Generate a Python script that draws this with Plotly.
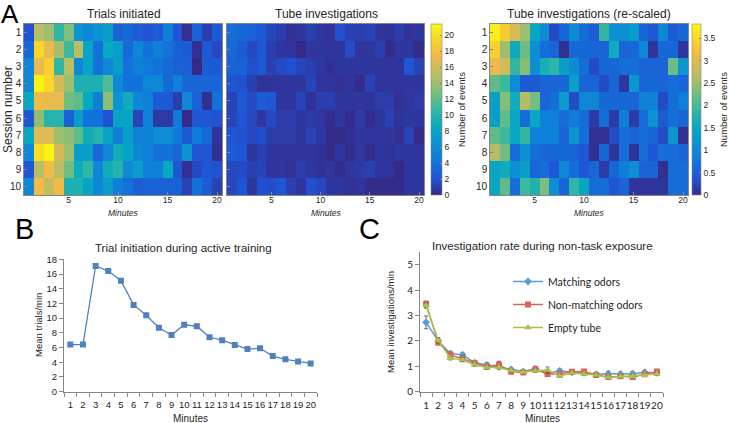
import plotly.graph_objects as go

# ---- data -------------------------------------------------------------
minutes = list(range(1, 21))
sessions = list(range(1, 11))

# trials initiated per minute (rows = session 1..10, cols = minute 1..20)
trials_initiated = [
    [2.0, 15.0, 14.0, 10.5, 13.0, 6.5, 5.5, 6.5, 7.5, 3.0, 3.5, 2.5, 2.0, 2.5, 5.0, 2.0, 0.3, 3.0, 1.0, 2.5],
    [3.5, 19.5, 17.0, 14.5, 11.0, 15.0, 8.0, 4.0, 8.5, 7.5, 3.5, 5.5, 4.0, 5.0, 4.0, 3.0, 2.5, 0.3, 2.5, 1.5],
    [5.5, 17.0, 19.0, 10.5, 15.0, 5.5, 8.0, 4.0, 5.5, 7.5, 4.0, 5.0, 4.5, 4.0, 3.5, 3.0, 2.7, 0.0, 2.5, 2.5],
    [5.5, 21.0, 19.5, 16.0, 14.0, 9.5, 9.5, 9.5, 11.5, 5.5, 4.0, 4.0, 5.5, 5.5, 3.5, 5.0, 3.2, 3.2, 3.2, 3.2],
    [8.5, 17.5, 17.0, 17.0, 12.5, 12.0, 8.5, 5.0, 13.5, 6.5, 9.0, 5.5, 5.0, 2.5, 2.5, 1.0, 5.5, 3.0, 0.3, 4.0],
    [2.2, 13.5, 10.0, 10.0, 3.0, 7.5, 4.0, 4.0, 2.0, 8.0, 8.0, 1.3, 5.0, 0.8, 0.8, 4.5, 0.0, 2.2, 2.2, 2.0],
    [8.5, 16.5, 16.5, 14.0, 13.5, 12.0, 9.0, 10.0, 8.0, 5.0, 7.5, 5.0, 5.0, 6.0, 6.0, 4.5, 2.5, 4.5, 3.5, 0.5],
    [5.5, 20.0, 21.0, 16.0, 14.0, 7.5, 7.5, 3.2, 5.5, 9.0, 8.0, 5.5, 5.0, 4.0, 4.0, 3.2, 6.5, 2.2, 2.2, 0.3],
    [2.2, 15.0, 17.5, 15.0, 12.5, 9.0, 10.5, 5.5, 9.0, 10.0, 5.5, 7.5, 5.0, 5.0, 8.5, 2.2, 0.3, 1.5, 2.2, 2.0],
    [5.5, 17.5, 15.5, 17.5, 9.5, 9.5, 8.0, 5.5, 7.5, 5.0, 4.0, 2.7, 3.0, 3.0, 3.0, 3.0, 1.2, 4.0, 2.5, 1.2],
]

# tube investigations per minute (shown on the shared scale and re-scaled)
tube_investigations = [
    [3.7, 3.35, 2.9, 2.5, 1.45, 1.05, 0.3, 0.6, 1.05, 0.65, 0.45, 1.9, 1.1, 1.1, 1.3, 0.6, 0.45, 1.0, 0.45, 0.6],
    [3.4, 2.5, 1.55, 2.2, 1.1, 0.65, 0.55, 0.05, 0.6, 0.6, 0.55, 0.55, 1.6, 0.55, 0.6, 1.0, 0.1, 0.6, 0.6, 0.1],
    [3.05, 2.85, 1.9, 2.35, 1.1, 1.65, 1.85, 1.35, 1.05, 0.65, 0.3, 0.6, 0.6, 0.65, 0.65, 0.55, 0.55, 0.55, 2.2, 1.2],
    [2.15, 1.95, 1.05, 0.45, 0.45, 0.55, 0.55, 0.6, 1.35, 0.55, 0.55, 0.3, 0.55, 0.1, 1.2, 0.55, 0.6, 0.55, 0.65, 0.55],
    [1.35, 2.35, 1.6, 2.65, 2.25, 0.55, 0.65, 1.25, 0.3, 1.0, 1.0, 0.6, 0.6, 0.6, 0.55, 0.9, 0.9, 0.3, 0.65, 0.85],
    [1.35, 2.15, 1.45, 0.65, 1.5, 0.9, 0.9, 0.65, 0.85, 0.65, 0.15, 0.65, 0.15, 0.85, 0.15, 0.65, 1.15, 0.45, 0.65, 0.55],
    [2.15, 1.95, 1.5, 1.9, 0.9, 0.9, 0.9, 0.55, 1.2, 0.65, 0.05, 0.05, 0.3, 0.65, 0.55, 0.65, 0.55, 0.3, 1.2, 0.05],
    [2.65, 2.25, 0.65, 1.1, 0.65, 0.55, 0.6, 0.6, 0.55, 0.4, 0.05, 0.6, 0.1, 0.65, 0.1, 0.65, 0.4, 0.65, 0.65, 0.55],
    [1.45, 1.6, 1.1, 1.35, 0.55, 0.65, 0.4, 1.0, 0.65, 0.4, 0.6, 0.15, 0.6, 0.85, 1.1, 0.55, 0.55, 0.05, 0.65, 0.65],
    [1.45, 2.15, 0.65, 1.95, 1.75, 2.3, 1.1, 0.55, 1.85, 1.45, 0.65, 0.65, 0.4, 0.55, 0.1, 0.1, 0.1, 0.1, 0.65, 0.65],
]

# panel B: mean trials/min
mean_trials = [6.4, 6.4, 17.1, 16.4, 15.1, 11.8, 10.4, 8.7, 7.7, 9.1,
               8.9, 7.4, 7.0, 6.35, 5.8, 5.9, 4.85, 4.4, 4.1, 3.85]

# panel C: mean investigations/min with error bars
matching = [2.73, 2.0, 1.5, 1.45, 1.14, 1.06, 0.99, 0.88, 0.8, 0.9,
            0.72, 0.82, 0.76, 0.74, 0.69, 0.71, 0.7, 0.71, 0.77, 0.74]
matching_err = [0.25, 0.12, 0.09, 0.1, 0.08, 0.09, 0.07, 0.07, 0.06, 0.1,
                0.07, 0.08, 0.06, 0.06, 0.06, 0.1, 0.07, 0.09, 0.07, 0.07]
non_matching = [3.45, 1.94, 1.45, 1.3, 1.12, 0.98, 1.06, 0.79, 0.76, 0.88,
                0.7, 0.7, 0.79, 0.8, 0.66, 0.58, 0.61, 0.58, 0.69, 0.8]
non_matching_err = [0.12, 0.1, 0.08, 0.1, 0.06, 0.07, 0.14, 0.07, 0.06, 0.08,
                    0.06, 0.06, 0.06, 0.06, 0.05, 0.06, 0.05, 0.05, 0.06, 0.07]
empty_tube = [3.39, 2.02, 1.32, 1.26, 1.06, 0.95, 0.95, 0.82, 0.78, 0.82,
              0.85, 0.62, 0.74, 0.7, 0.66, 0.56, 0.59, 0.61, 0.65, 0.7]
empty_tube_err = [0.1, 0.1, 0.07, 0.08, 0.06, 0.06, 0.06, 0.05, 0.05, 0.06,
                  0.12, 0.06, 0.05, 0.05, 0.05, 0.05, 0.05, 0.05, 0.05, 0.05]

# ---- style ------------------------------------------------------------
W, H = 729, 423
parula = [
    [0.0, "rgb(53,42,135)"], [0.095, "rgb(32,83,212)"], [0.206, "rgb(16,121,218)"],
    [0.302, "rgb(12,147,210)"], [0.397, "rgb(7,169,194)"], [0.508, "rgb(56,185,158)"],
    [0.603, "rgb(124,191,123)"], [0.698, "rgb(183,189,100)"], [0.81, "rgb(241,185,74)"],
    [0.905, "rgb(250,211,42)"], [1.0, "rgb(249,251,14)"],
]
ARIAL = "Liberation Sans, Arial, sans-serif"
CAL = "Lato, Liberation Sans, sans-serif"
TXT = "#262626"
AX = "#868686"


def px_x(x):
    return x / W


def px_y(y):
    return 1 - y / H


fig = go.Figure()

fig.add_trace(go.Heatmap(z=trials_initiated, x=minutes, y=sessions, coloraxis="coloraxis",
                         xaxis="x", yaxis="y", hoverinfo="skip"))
fig.add_trace(go.Heatmap(z=tube_investigations, x=minutes, y=sessions, coloraxis="coloraxis",
                         xaxis="x2", yaxis="y2", hoverinfo="skip"))
fig.add_trace(go.Heatmap(z=tube_investigations, x=minutes, y=sessions, coloraxis="coloraxis2",
                         xaxis="x3", yaxis="y3", hoverinfo="skip"))

fig.add_trace(go.Scatter(x=minutes, y=mean_trials, mode="lines+markers", xaxis="x4", yaxis="y4",
                         line=dict(color="#4f81bd", width=1.3),
                         marker=dict(symbol="square", size=6, color="#4f81bd"),
                         showlegend=False))

series_c = [
    ("Matching odors", matching, matching_err, "#5b9bd5", "diamond", 6),
    ("Non-matching odors", non_matching, non_matching_err, "#e0605a", "square", 6),
    ("Empty tube", empty_tube, empty_tube_err, "#a5c449", "triangle-up", 7),
]
for name, vals, errs, col, sym, sz in series_c:
    fig.add_trace(go.Scatter(
        x=minutes, y=vals, name=name, mode="lines+markers", xaxis="x5", yaxis="y5",
        legendgroup=name,
        line=dict(color=col, width=1.5),
        marker=dict(symbol=sym, size=sz, color=col),
        error_y=dict(type="data", array=errs, color="#404040", thickness=0.8, width=2),
    ))

heat_y = [px_y(195), px_y(24)]
heat_x = {"": [24, 222], "2": [227, 424], "3": [490, 688]}


def colorbar(x, thick, ticks):
    return dict(x=px_x(x), xanchor="left", xpad=0, y=heat_y[0], yanchor="bottom", ypad=0,
                len=heat_y[1] - heat_y[0], lenmode="fraction", thickness=thick,
                outlinewidth=0.6, outlinecolor=AX,
                tickvals=ticks, ticks="inside", ticklen=2, tickcolor=AX,
                tickfont=dict(size=8.5, color=TXT),
                title=dict(text="Number of events", side="right",
                           font=dict(size=9.5, color=TXT)))


layout = dict(
    width=W, height=H, margin=dict(l=0, r=0, t=0, b=0),
    paper_bgcolor="white", plot_bgcolor="white",
    font=dict(family=ARIAL, color=TXT, size=9),
    coloraxis=dict(colorscale=parula, cmin=0, cmax=21.4,
                   colorbar=colorbar(431, 11, list(range(0, 21, 2)))),
    coloraxis2=dict(colorscale=parula, cmin=0, cmax=3.82,
                    colorbar=colorbar(692, 9, [0, 0.5, 1, 1.5, 2, 2.5, 3, 3.5])),
    showlegend=True,
    legend=dict(x=px_x(508), y=px_y(267), xanchor="left", yanchor="top",
                bgcolor="rgba(0,0,0,0)", font=dict(family=CAL, size=10.5, color=TXT),
                tracegroupgap=4, itemwidth=30),
)

for k, (x0, x1) in heat_x.items():
    layout["xaxis" + k] = dict(domain=[px_x(x0), px_x(x1)], anchor="y" + k, range=[0.5, 20.5],
                               tickvals=[5, 10, 15, 20], ticks="inside", ticklen=3, tickcolor=AX,
                               showline=True, mirror=True, linecolor=AX, linewidth=0.6,
                               showgrid=False, zeroline=False, tickfont=dict(size=8.5),
                               ticklabelstandoff=-3, tickangle=0, automargin=False)
    layout["yaxis" + k] = dict(domain=heat_y, anchor="x" + k, range=[10.5, 0.5],
                               tickvals=sessions, ticks="inside", ticklen=3, tickcolor=AX,
                               showticklabels=(k != "2"),
                               showline=True, mirror=True, linecolor=AX, linewidth=0.6,
                               showgrid=False, zeroline=False, tickfont=dict(size=10),
                               automargin=False)

boundaries = [m - 0.5 for m in minutes] + [20.5]
line_axes = {"4": ([64, 317], [0, 18], 2, ARIAL, 9.5), "5": ([420, 663], [0, 5.5], 1, CAL, 10)}
for k, ((x0, x1), yr, dt, fam, fs) in line_axes.items():
    layout["xaxis" + k] = dict(domain=[px_x(x0), px_x(x1)], anchor="y" + k, range=[0.5, 20.5],
                               tickvals=minutes, ticks="", showline=True, linecolor=AX,
                               linewidth=1, showgrid=False, zeroline=False, tickangle=0,
                               tickfont=dict(family=fam, size=fs), ticklabelstandoff=4,
                               minor=dict(tickmode="array", tickvals=boundaries, ticks="outside",
                                          ticklen=4, tickcolor=AX),
                               automargin=False)
    layout["yaxis" + k] = dict(domain=[px_y(391.7), px_y(259.3 if k == "4" else 252)],
                               anchor="x" + k, range=yr, dtick=dt, ticks="outside", ticklen=4,
                               tickcolor=AX, showline=True, linecolor=AX, linewidth=1,
                               showgrid=False, zeroline=False,
                               tickfont=dict(family=fam, size=fs), automargin=False)

fig.update_layout(**layout)

notes = [
    ("A", 10, 14, 26),
    ("B", 24, 229, 29),
    ("C", 369, 229, 29),
    ("Trials initiated", 124, 14, 12),
    ("Tube investigations", 326, 14, 12),
    ("Tube investigations (re-scaled)", 589, 14, 12),
    ("<i>Minutes</i>", 123, 213, 8.5),
    ("<i>Minutes</i>", 326, 213, 8.5),
    ("<i>Minutes</i>", 589, 213, 8.5),
    ("Trial initiation during active training", 184, 248, 11.5),
    ("Minutes", 190, 418, 10),
    ("Investigation rate during non-task exposure", 542, 246, 11.5),
    ("Minutes", 542, 418, 10),
]
for text, x, y, size in notes:
    fig.add_annotation(text=text, x=px_x(x), y=px_y(y), xref="paper", yref="paper",
                       showarrow=False, xanchor="center", yanchor="middle",
                       font=dict(family=ARIAL, size=size, color="black" if size > 20 else TXT))

vertical = [
    ("Session number", 8, 110, 12),
    ("Mean trials/min", 38, 325, 9.5),
    ("Mean investigations/min", 390, 322, 9.5),
]
for text, x, y, size in vertical:
    fig.add_annotation(text=text, x=px_x(x), y=px_y(y), xref="paper", yref="paper",
                       showarrow=False, xanchor="center", yanchor="middle", textangle=-90,
                       font=dict(family=ARIAL, size=size, color=TXT))

fig.write_html("out.html", config={"displayModeBar": False},
               post_script="document.body.style.margin='0';")
